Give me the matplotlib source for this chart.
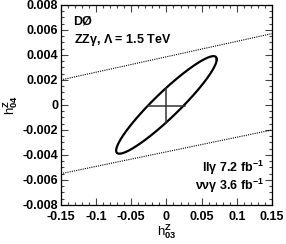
import numpy as np
import matplotlib
matplotlib.use('Agg')
import matplotlib.pyplot as plt
from matplotlib.ticker import MultipleLocator

plt.rcParams['font.family'] = ['Liberation Sans', 'DejaVu Sans']
plt.rcParams['font.weight'] = 'bold'
plt.rcParams['mathtext.fontset'] = 'custom'
plt.rcParams['mathtext.rm'] = 'Liberation Sans:bold'
plt.rcParams['mathtext.bf'] = 'Liberation Sans:bold'
plt.rcParams['mathtext.it'] = 'Liberation Sans:bold'
plt.rcParams['mathtext.default'] = 'bf'

# unitarity bound lines (dotted)
bound_x = [-0.15, 0.15]
bound_upper = [0.0020, 0.0057]
bound_lower = [-0.0055, -0.0020]

# 95% CL contour: centre, half-ranges in x and y, phase (correlation)
ell_center = (0.0, 0.0)
ell_halfx = 0.0715
ell_halfy = 0.0039
ell_cosphi = 0.935

# SM point marker (cross) half-sizes
cross_center = (0.0, -0.00005)
cross_dx = 0.026
cross_dy = 0.00137

fig = plt.figure(figsize=(2.86, 2.44), dpi=100)
ax = fig.add_axes([0.213, 0.160, 0.738, 0.820])

ax.plot(bound_x, bound_upper, color='black', lw=0.8, ls=(0, (1, 1)))
ax.plot(bound_x, bound_lower, color='black', lw=0.8, ls=(0, (1, 1)))

t = np.linspace(0, 2 * np.pi, 400)
phi = np.arccos(ell_cosphi)
ex = ell_center[0] + ell_halfx * np.cos(t)
ey = ell_center[1] + ell_halfy * np.cos(t - phi)
ax.plot(ex, ey, color='black', lw=1.6)

cx, cy = cross_center
ax.plot([cx - cross_dx, cx + cross_dx], [cy, cy], color='#333333', lw=1.1)
ax.plot([cx, cx], [cy - cross_dy, cy + cross_dy], color='#333333', lw=1.1)

ax.set_xlim(-0.15, 0.15)
ax.set_ylim(-0.008, 0.008)
ax.xaxis.set_major_locator(MultipleLocator(0.05))
ax.xaxis.set_minor_locator(MultipleLocator(0.01))
ax.yaxis.set_major_locator(MultipleLocator(0.002))
ax.yaxis.set_minor_locator(MultipleLocator(0.0005))
ax.xaxis.set_major_formatter(plt.FuncFormatter(lambda v, p: '0' if abs(v) < 1e-9 else ('%g' % v)))
ax.yaxis.set_major_formatter(plt.FuncFormatter(lambda v, p: '0' if abs(v) < 1e-12 else ('%.3f' % v)))
ax.tick_params(which='both', direction='in', top=True, right=True, labelsize=9, width=0.8, color='#444444')
ax.tick_params(which='major', length=5)
ax.tick_params(which='minor', length=2.5)
ax.tick_params(axis='x', which='major', pad=4)
ax.tick_params(axis='y', which='major', pad=2)
for s in ax.spines.values():
    s.set_linewidth(0.9)

ax.set_xlabel(r'h$^{Z}_{03}$', fontsize=9.5, labelpad=0)
ax.set_ylabel(r'h$^{Z}_{04}$', fontsize=9.5, labelpad=2)

ax.text(0.06, 0.90, 'DØ', transform=ax.transAxes, fontsize=9)
ax.text(0.06, 0.81, r'ZZ$\gamma$, $\Lambda$ = 1.5 TeV', transform=ax.transAxes, fontsize=9)
ax.text(0.96, 0.165, r'll$\gamma$ 7.2 fb$^{-1}$', transform=ax.transAxes, fontsize=9, ha='right')
ax.text(0.96, 0.075, r'$\nu\nu\gamma$ 3.6 fb$^{-1}$', transform=ax.transAxes, fontsize=9, ha='right')

fig.savefig('out.png', dpi=100)
